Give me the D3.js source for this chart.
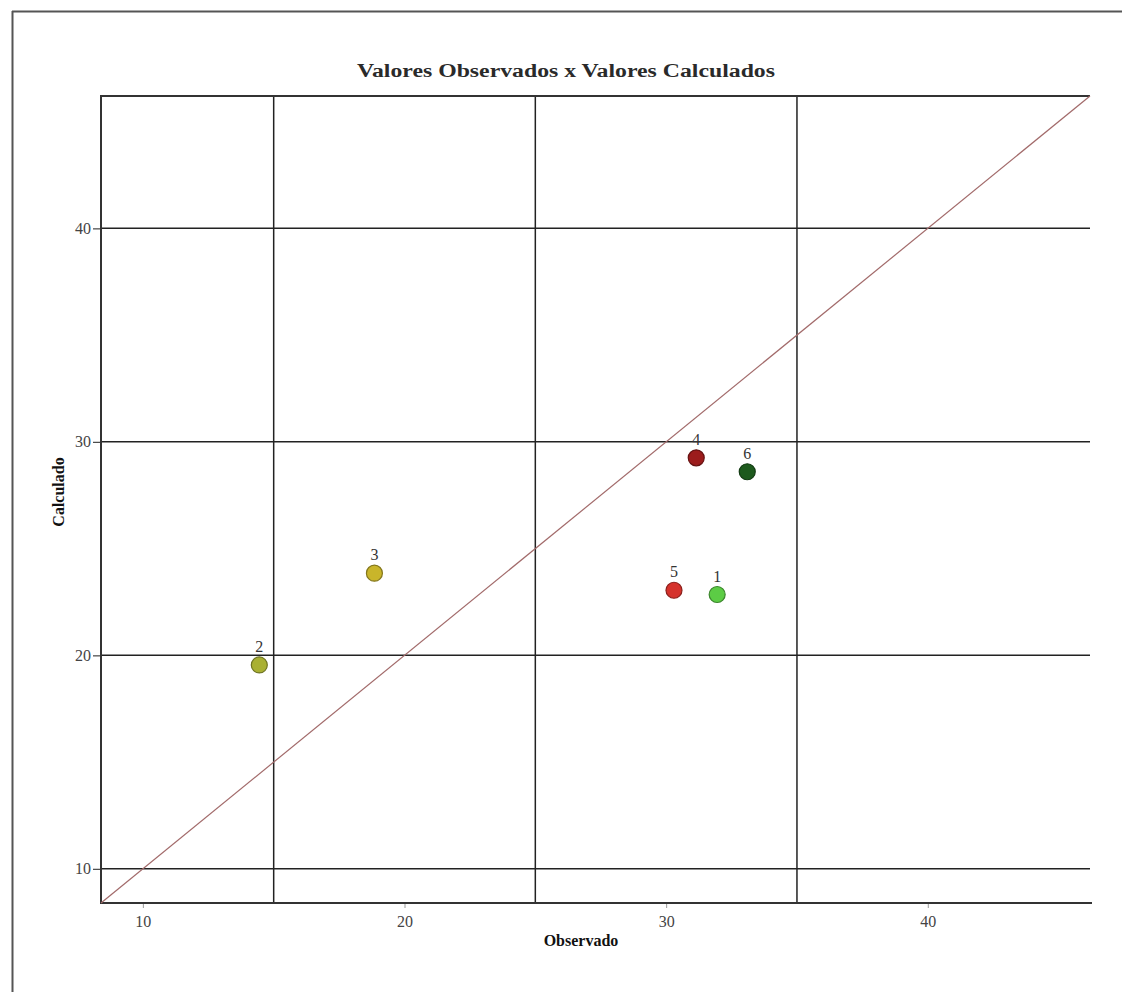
<!DOCTYPE html>
<html>
<head>
<meta charset="utf-8">
<script src="https://cdn.jsdelivr.net/npm/d3@7"></script>
<style>
  html, body { margin: 0; padding: 0; background: #fff; }
  svg { display: block; }
  text { font-family: "Liberation Serif", "DejaVu Serif", serif; }
</style>
</head>
<body>
<svg id="chart" width="1122" height="992"></svg>
<script>
// ---- data ----
const pointIds   = ["1", "2", "3", "4", "5", "6"];
const observado  = [31.95, 14.45, 18.85, 31.15, 30.3, 33.1];
const calculado  = [22.85, 19.55, 23.85, 29.25, 23.05, 28.6];
const pointColors = ["#5ccc45", "#a9b032", "#c9b52a", "#9c1c1c", "#d5322c", "#1d5a1d"];
const tickValues = [10, 20, 30, 40];
const gridValues = { x: [15, 25, 35], y: [10, 20, 30, 40] };
const domainMin = 8.4, domainMax = 46.2;
const titleText = "Valores Observados x Valores Calculados";
const xLabel = "Observado", yLabel = "Calculado";

// ---- layout ----
const svg = d3.select("#chart");
const L = 101, R = 1090, T = 96, B = 903;
const x = d3.scaleLinear().domain([domainMin, domainMax]).range([L, R]);
const y = d3.scaleLinear().domain([domainMin, domainMax]).range([B, T]);

// outer frame
svg.append("line").attr("x1", 12).attr("x2", 1122).attr("y1", 11.5).attr("y2", 11.5)
  .attr("stroke", "#555").attr("stroke-width", 2);
svg.append("line").attr("x1", 12.5).attr("x2", 12.5).attr("y1", 11).attr("y2", 992)
  .attr("stroke", "#555").attr("stroke-width", 2);

// title
svg.append("text").attr("x", 566).attr("y", 77).attr("text-anchor", "middle")
  .attr("font-size", 18).attr("font-weight", "bold").attr("fill", "#2a2a2a")
  .attr("textLength", 418).attr("lengthAdjust", "spacingAndGlyphs")
  .text(titleText);

// grid lines
svg.append("g").selectAll("line").data(gridValues.x).join("line")
  .attr("x1", d => x(d)).attr("x2", d => x(d)).attr("y1", T).attr("y2", B)
  .attr("stroke", "#222").attr("stroke-width", 1.5);
svg.append("g").selectAll("line").data(gridValues.y).join("line")
  .attr("x1", L).attr("x2", R).attr("y1", d => y(d)).attr("y2", d => y(d))
  .attr("stroke", "#222").attr("stroke-width", 1.5);

// axes
const xAxis = d3.axisBottom(x).tickValues(tickValues).tickSize(5).tickPadding(8).tickFormat(d3.format("d"));
const gx = svg.append("g").attr("transform", `translate(0,${B})`).call(xAxis);
gx.select(".domain").remove();
gx.selectAll("line").attr("stroke", "#999");
gx.selectAll("text").attr("font-size", 16).attr("fill", "#444")
  .attr("font-family", "Liberation Serif, serif");

const yAxis = d3.axisLeft(y).tickValues(tickValues).tickSize(8).tickPadding(2).tickFormat(d3.format("d"));
const gy = svg.append("g").attr("transform", `translate(${L},0)`).call(yAxis);
gy.select(".domain").remove();
gy.selectAll("line").attr("stroke", "#444").attr("stroke-width", 1.2);
gy.selectAll("text").attr("font-size", 16).attr("fill", "#444")
  .attr("font-family", "Liberation Serif, serif");

// plot border (top, left, bottom)
svg.append("path")
  .attr("d", `M${R},${T}H${L}V${B}H${R + 2}`)
  .attr("fill", "none").attr("stroke", "#333").attr("stroke-width", 2);

// diagonal y = x
svg.append("line")
  .attr("x1", x(domainMin)).attr("y1", y(domainMin))
  .attr("x2", x(domainMax)).attr("y2", y(domainMax))
  .attr("stroke", "#a26a6a").attr("stroke-width", 1.2);

// points
const pts = pointIds.map((id, i) => ({ id, o: observado[i], c: calculado[i], col: pointColors[i] }));
svg.append("g").selectAll("circle").data(pts).join("circle")
  .attr("cx", d => x(d.o)).attr("cy", d => y(d.c)).attr("r", 8)
  .attr("fill", d => d.col)
  .attr("stroke", d => d3.color(d.col).darker(1.2)).attr("stroke-width", 1.2);
svg.append("g").selectAll("text").data(pts).join("text")
  .attr("x", d => x(d.o)).attr("y", d => y(d.c) - 13)
  .attr("text-anchor", "middle").attr("font-size", 16).attr("fill", "#333")
  .text(d => d.id);

// axis titles
svg.append("text").attr("x", 581).attr("y", 946).attr("text-anchor", "middle")
  .attr("font-size", 16).attr("font-weight", "bold").attr("fill", "#111")
  .text(xLabel);
svg.append("text").attr("transform", "translate(64,492) rotate(-90)")
  .attr("text-anchor", "middle").attr("font-size", 16).attr("font-weight", "bold").attr("fill", "#111")
  .text(yLabel);
</script>
</body>
</html>
